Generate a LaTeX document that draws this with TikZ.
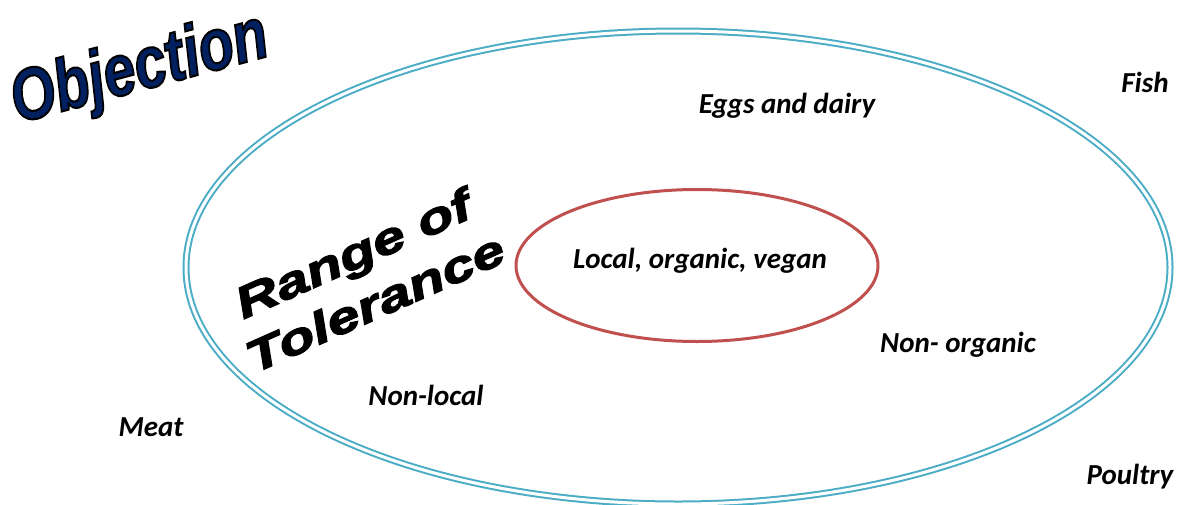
\documentclass[tikz,border=0pt]{standalone}
\usepackage{fontspec}
\setmainfont{Carlito}
\newfontfamily\titlefont{Liberation Sans}
\newfontfamily\widefont{Liberation Sans}[FakeStretch=1.35,FakeBold=3]
\definecolor{ringblue}{HTML}{4BACC6}
\definecolor{ringred}{HTML}{C0504D}
\definecolor{navy}{HTML}{002060}
\newcommand{\outlined}[1]{\special{pdf:literal 0 0 0 RG 2 Tr 1.6 w}#1\special{pdf:literal 0 Tr}}
\tikzset{
  lbl/.style={font=\fontsize{29}{34}\selectfont\bfseries\itshape, inner sep=0pt},
  outerring/.style={draw=ringblue, line width=2pt, double=white, double distance=3pt},
  innerring/.style={draw=ringred, line width=3pt},
  wide/.style={font=\fontsize{44}{54}\selectfont\widefont\bfseries\itshape, inner sep=0pt, align=center},
}
\begin{document}
\begin{tikzpicture}[x=1pt,y=-1pt]
\useasboundingbox (0,0) rectangle (1178,504);
\draw[outerring] (678,267.5) ellipse [x radius=492, y radius=236.5];
\draw[innerring] (697,265.5) ellipse [x radius=181, y radius=76];
\node[lbl] (core) at (700,261) {Local, organic, vegan};
\node[lbl] (eggs) at (787,106) {Eggs and dairy};
\node[lbl] (fish) at (1145,82) {Fish};
\node[lbl] (nonorg) at (958,345) {Non- organic};
\node[lbl] (nonloc) at (426,395) {Non-local};
\node[lbl] (meat) at (151,427) {Meat};
\node[lbl] (poultry) at (1130,477) {Poultry};
\node[inner sep=0pt, rotate=15] (obj) at (140,71)
  {\scalebox{1.02}[1.3]{\fontsize{56}{60}\selectfont\titlefont\bfseries\itshape\color{navy}\outlined{Objection}}};
\node[wide, rotate=24] (range) at (364,278) {Range of\\Tolerance};
\end{tikzpicture}
\end{document}
